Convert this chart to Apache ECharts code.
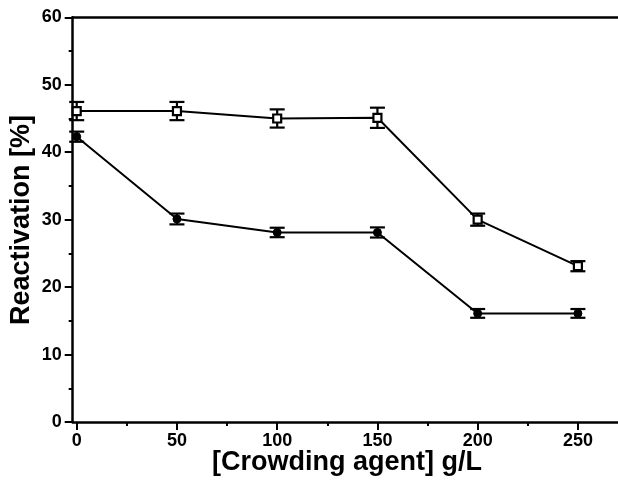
<!DOCTYPE html>
<html>
<head>
<meta charset="utf-8">
<script src="https://cdn.jsdelivr.net/npm/echarts@6/dist/echarts.min.js"></script>
<style>
html,body{margin:0;padding:0;background:#fff;}
#c{width:618px;height:481px;}
</style>
</head>
<body>
<div id="c"></div>
<script>
// Data
const xValues = [0, 50, 100, 150, 200, 250];
const squareY = [46.1, 46.1, 45.0, 45.1, 30.0, 23.1];
const squareErr = [1.35, 1.35, 1.35, 1.5, 0.9, 0.75];
const circleY = [42.3, 30.1, 28.1, 28.1, 16.1, 16.1];
const circleErr = [0.75, 0.8, 0.7, 0.75, 0.65, 0.65];
const xTickLabels = [0, 50, 100, 150, 200, 250];
const xMinorTicks = [25, 75, 125, 175, 225];
const yTitle = 'Reactivation [%]';
const xTitle = '[Crowding agent] g/L';

const FONT = 'Liberation Sans';

function pairs(xs, ys) { return xs.map((x, i) => [x, ys[i]]); }
function errData(xs, ys, es) { return xs.map((x, i) => [x, ys[i] - es[i], ys[i] + es[i]]); }

function errRender(params, api) {
  const x = api.value(0);
  const lo = api.coord([x, api.value(1)]);
  const hi = api.coord([x, api.value(2)]);
  const hw = 7.5;
  const style = { stroke: '#000', lineWidth: 2.2 };
  return {
    type: 'group',
    children: [
      { type: 'line', shape: { x1: lo[0], y1: lo[1], x2: hi[0], y2: hi[1] }, style },
      { type: 'line', shape: { x1: lo[0] - hw, y1: lo[1], x2: lo[0] + hw, y2: lo[1] }, style },
      { type: 'line', shape: { x1: hi[0] - hw, y1: hi[1], x2: hi[0] + hw, y2: hi[1] }, style }
    ]
  };
}

const chart = echarts.init(document.getElementById('c'));
const axisLabelStyle = { color: '#000', fontFamily: FONT, fontWeight: 'bold', fontSize: 18 };

chart.setOption({
  animation: false,
  backgroundColor: '#fff',
  grid: { left: 72.7, right: 0, top: 17.3, bottom: 59 },
  xAxis: [
    {
      type: 'value', min: -2, max: 270, position: 'bottom',
      axisLine: { show: true, onZero: false, lineStyle: { color: '#000', width: 2.5 } },
      axisTick: { show: true, customValues: xTickLabels, length: 8, lineStyle: { color: '#000', width: 2 } },
      axisLabel: { show: true, customValues: xTickLabels, margin: 10, ...axisLabelStyle },
      splitLine: { show: false }
    },
    {
      type: 'value', min: -2, max: 270, position: 'bottom',
      axisLine: { show: false, onZero: false },
      axisTick: { show: true, customValues: xMinorTicks, length: 4, lineStyle: { color: '#000', width: 2 } },
      axisLabel: { show: false },
      splitLine: { show: false }
    },
    {
      type: 'value', min: -2, max: 270, position: 'top',
      axisLine: { show: true, onZero: false, lineStyle: { color: '#000', width: 2.5 } },
      axisTick: { show: false },
      axisLabel: { show: false },
      splitLine: { show: false }
    }
  ],
  yAxis: {
    type: 'value', min: 0, max: 60, interval: 10,
    axisLine: { show: true, onZero: false, lineStyle: { color: '#000', width: 2.5 } },
    axisTick: { show: true, length: 8, lineStyle: { color: '#000', width: 2 } },
    minorTick: { show: true, splitNumber: 2, length: 4, lineStyle: { color: '#000', width: 2 } },
    axisLabel: { margin: 11, ...axisLabelStyle },
    splitLine: { show: false }
  },
  graphic: [
    {
      type: 'text',
      rotation: Math.PI / 2,
      x: 8, y: 220,
      style: { text: yTitle, fill: '#000', font: 'bold 27px "' + FONT + '"', align: 'center', verticalAlign: 'top' }
    },
    {
      type: 'text', x: 347, y: 449,
      style: { text: xTitle, fill: '#000', font: 'bold 27px "' + FONT + '"', align: 'center', verticalAlign: 'top' }
    }
  ],
  series: [
    {
      type: 'custom', xAxisIndex: 0, renderItem: errRender, data: errData(xValues, squareY, squareErr), z: 2
    },
    {
      type: 'custom', xAxisIndex: 0, renderItem: errRender, data: errData(xValues, circleY, circleErr), z: 2
    },
    {
      type: 'line', xAxisIndex: 0, data: pairs(xValues, squareY), symbol: 'rect', symbolSize: 8,
      lineStyle: { color: '#000', width: 2 },
      itemStyle: { color: '#fff', borderColor: '#000', borderWidth: 2.2 }, z: 3
    },
    {
      type: 'line', xAxisIndex: 0, data: pairs(xValues, circleY), symbol: 'circle', symbolSize: 8,
      lineStyle: { color: '#000', width: 2 },
      itemStyle: { color: '#000', borderColor: '#000', borderWidth: 1 }, z: 3
    }
  ]
});
</script>
</body>
</html>
